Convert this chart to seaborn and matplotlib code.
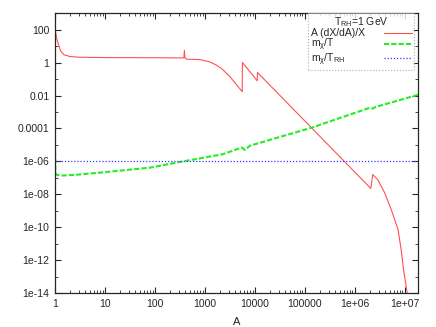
import matplotlib
matplotlib.use("Agg")
import matplotlib.pyplot as plt
import matplotlib.ticker as mticker
import seaborn as sns

# values (log-log axes)
red_A = [1.0, 1.08, 1.16, 1.3, 1.5, 2, 3, 10, 100, 380, 390, 400, 430,
         800, 1250, 1700, 2150, 3200, 5600, 5650, 11200, 11300,
         2.1e6, 2.3e6, 2.9e6, 4.0e6, 5.4e6, 7.4e6, 8.5e6, 9.5e6, 1.12e7, 1.2e7]
red_val = [110, 30, 14, 5, 3, 2.3, 2.1, 2.0, 1.95, 1.9, 5.4, 2.0, 1.6,
           1.5, 1.1, 0.7, 0.44, 0.135, 0.017, 1.0, 0.078, 0.25,
           2.3e-8, 1.6e-7, 7.8e-8, 1.2e-8, 1.2e-9, 7.2e-11, 4.5e-12, 2.8e-13, 1.1e-14, 1e-15]

green_A = [1.0, 1.02, 1.1, 1.45, 3, 8, 80, 360, 2300, 5500, 6300, 8000,
           1.35e5, 2.0e6, 2.3e6, 2.6e6, 1.85e7]
green_val = [1.2e-5, 2e-7, 1.5e-7, 1.4e-7, 1.6e-7, 2.1e-7, 4.2e-7, 1e-6, 2.75e-6, 7e-6,
             5e-6, 9e-6, 1.1e-4, 1.8e-3, 1.6e-3, 2.0e-3, 1.1e-2]

trh_A = [1.0, 1.85e7]
trh_val = [1e-6, 1e-6]

x_ticks = [1, 10, 100, 1000, 1e4, 1e5, 1e6, 1e7]
x_labels = ["1", "10", "100", "1000", "10000", "100000", "1e+06", "1e+07"]
y_ticks = [1e2, 1, 1e-2, 1e-4, 1e-6, 1e-8, 1e-10, 1e-12, 1e-14]
y_labels = ["100", "1", "0.01", "0.0001", "1e-06", "1e-08", "1e-10", "1e-12", "1e-14"]

sns.set_style("ticks")
plt.rcParams['font.family'] = ['Liberation Sans', 'DejaVu Sans']
plt.rcParams['mathtext.default'] = 'regular'

fig = plt.figure(figsize=(4.36, 3.27), dpi=100)
ax = fig.add_axes([0.1261, 0.103, 0.8326, 0.857])

sns.lineplot(x=red_A, y=red_val, ax=ax, color="#ff5050", lw=0.8,
             estimator=None, sort=False, label="A (dX/dA)/X")
sns.lineplot(x=green_A, y=green_val, ax=ax, color="#22ee22", lw=1.5,
             estimator=None, sort=False, label=r"m$_\chi$/T")
ax.lines[-1].set_linestyle((0, (2.5, 1)))
sns.lineplot(x=trh_A, y=trh_val, ax=ax, color="#3a3aff", lw=0.9,
             estimator=None, sort=False, label=r"m$_\chi$/T$_{RH}$")
ax.lines[-1].set_linestyle((0, (1, 1.5)))

ax.set_xscale("log")
ax.set_yscale("log")
ax.set_xlim(1, 1.85e7)
ax.set_ylim(1e-14, 1e3)

ax.set_xticks(x_ticks)
ax.set_xticklabels(x_labels)
ax.xaxis.set_minor_locator(mticker.LogLocator(base=10, subs=[2, 3, 4, 5, 6, 7, 8, 9], numticks=20))
ax.xaxis.set_minor_formatter(mticker.NullFormatter())
ax.set_yticks(y_ticks)
ax.set_yticklabels(y_labels)
ax.yaxis.set_minor_locator(mticker.FixedLocator([1e1, 1e-1, 1e-3, 1e-5, 1e-7, 1e-9, 1e-11, 1e-13]))
ax.yaxis.set_minor_formatter(mticker.NullFormatter())

ax.tick_params(which="both", direction="in", top=True, right=True, labelsize=7.5, pad=4)
ax.tick_params(which="major", length=4, width=0.8)
ax.tick_params(which="minor", length=2, width=0.6)
for s in ax.spines.values():
    s.set_linewidth(0.9)

ax.set_xlabel("A", fontsize=8, labelpad=6)
ax.set_ylabel("")

leg = ax.legend(title=r"T$_{RH}$=1 GeV", loc="upper right", bbox_to_anchor=(0.99, 1.0),
                markerfirst=False, fontsize=7.5, title_fontsize=7.5, frameon=True,
                fancybox=False, handlelength=2.7, handleheight=0.5, borderpad=0.25,
                labelspacing=-0.15, handletextpad=1.8, borderaxespad=0)
frame = leg.get_frame()
frame.set_edgecolor("#999999")
frame.set_linestyle(":")
frame.set_linewidth(0.8)

# gnuplot keys are left-aligned text with samples on the right: pad each row
fig.canvas.draw()
r = fig.canvas.get_renderer()
texts = leg.get_texts()
widths = [t.get_window_extent(r).width for t in texts]
maxw = max(widths)
rows = [row for col in leg._legend_handle_box.get_children() for row in col.get_children()]
for row, w in zip(rows, widths):
    row.sep = row.sep + (maxw - w) * 72.0 / fig.dpi

fig.savefig("out.png", dpi=100)
